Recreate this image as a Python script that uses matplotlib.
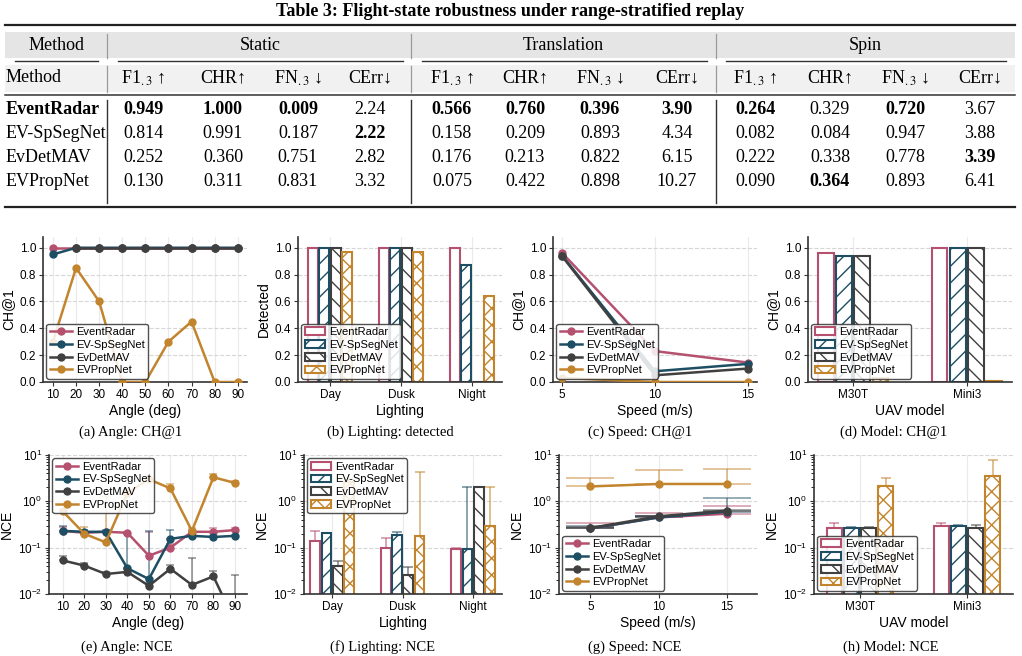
import numpy as np
import matplotlib
matplotlib.use("Agg")
import matplotlib.pyplot as plt
from matplotlib.patches import Rectangle

SERIF = ["Liberation Serif", "DejaVu Serif"]
SANS = ["Liberation Sans", "DejaVu Sans"]
plt.rcParams["font.family"] = SANS
plt.rcParams["hatch.linewidth"] = 1.0

methods = ["EventRadar", "EV-SpSegNet", "EvDetMAV", "EVPropNet"]
colors = ["#b5506e", "#1d4e63", "#404040", "#c2842d"]
hatches = ["", "//", "\\\\", "xx"]

# ---- table data ----
groups = ["Static", "Translation", "Spin"]
metric_names = ["F1$_{.3}$ \u2191", "CHR\u2191", "FN$_{.3}$ \u2193", "CErr\u2193"]
table_vals = [
    ["0.949", "1.000", "0.009", "2.24", "0.566", "0.760", "0.396", "3.90", "0.264", "0.329", "0.720", "3.67"],
    ["0.814", "0.991", "0.187", "2.22", "0.158", "0.209", "0.893", "4.34", "0.082", "0.084", "0.947", "3.88"],
    ["0.252", "0.360", "0.751", "2.82", "0.176", "0.213", "0.822", "6.15", "0.222", "0.338", "0.778", "3.39"],
    ["0.130", "0.311", "0.831", "3.32", "0.075", "0.422", "0.898", "10.27", "0.090", "0.364", "0.893", "6.41"],
]
table_bold = [
    [1, 1, 1, 0, 1, 1, 1, 1, 1, 0, 1, 0],
    [0, 0, 0, 1, 0, 0, 0, 0, 0, 0, 0, 0],
    [0, 0, 0, 0, 0, 0, 0, 0, 0, 0, 0, 1],
    [0, 0, 0, 0, 0, 0, 0, 0, 0, 1, 0, 0],
]

# ---- (a) angle CH@1 ----
angles = [10, 20, 30, 40, 50, 60, 70, 80, 90]
angle_chr = [
    [1.0, 1.0, 1.0, 1.0, 1.0, 1.0, 1.0, 1.0, 1.0],
    [0.95, 1.0, 1.0, 1.0, 1.0, 1.0, 1.0, 1.0, 1.0],
    [np.nan, 1.0, 1.0, 1.0, 1.0, 1.0, 1.0, 1.0, 1.0],
    [0.30, 0.85, 0.60, 0.0, 0.0, 0.30, 0.45, 0.0, 0.0],
]

# ---- (b) lighting detected ----
lighting = ["Day", "Dusk", "Night"]
light_det = [
    [1.0, 1.0, 1.0],
    [1.0, 1.0, 0.87],
    [1.0, 1.0, 0.0],
    [0.97, 0.97, 0.64],
]

# ---- (c) speed CH@1 ----
speeds = [5, 10, 15]
speed_chr = [
    [0.96, 0.23, 0.145],
    [0.94, 0.08, 0.135],
    [0.935, 0.05, 0.10],
    [0.03, 0.0, 0.0],
]

# ---- (d) model CH@1 ----
models = ["M30T", "Mini3"]
model_chr = [
    [0.96, 1.0],
    [0.94, 1.0],
    [0.94, 1.0],
    [0.03, 0.005],
]

# ---- (e) angle NCE ----
angle_nce = [
    [0.23, 0.21, 0.22, 0.21, 0.067, 0.10, 0.22, 0.22, 0.24],
    [0.23, 0.22, 0.22, 0.036, 0.021, 0.155, 0.18, 0.17, 0.18],
    [0.053, 0.041, 0.027, 0.030, 0.015, 0.035, 0.0157, 0.024, 0.0025],
    [0.61, 0.20, 0.13, 1.5, 3.0, 1.9, 0.23, 3.3, 2.5],
]
angle_nce_err = [
    [0.05, 0.02, 0.01, 0.01, 0.15, 0.02, 0.02, 0.05, 0.02],
    [0.07, 0.02, 0.02, 0.16, 0.21, 0.085, 0.01, 0.01, 0.01],
    [0.012, 0.005, 0.003, 0.004, 0.002, 0.008, 0.044, 0.007, 0.0235],
    [0.05, 0.08, 1.2, 0.3, 0.2, 0.5, 0.03, 0.5, 0.2],
]

# ---- (f) lighting NCE ----
light_nce = [
    [0.137, 0.099, 0.094],
    [0.207, 0.185, 0.094],
    [0.040, 0.026, 2.0],
    [2.6, 0.18, 0.30],
]
light_nce_err = [
    [0.088, 0.061, 0.006],
    [0.003, 0.033, 1.9],
    [0.011, 0.012, 0.0],
    [0.4, 4.1, 1.7],
]

# ---- (g) speed NCE ----
speed_nce = [
    [0.26, 0.45, 0.54],
    [0.26, 0.45, 0.60],
    [0.266, 0.475, 0.63],
    [2.1, 2.37, 2.37],
]
speed_nce_err = [
    [0.08, 0.11, 0.24],
    [0.03, 0.04, 0.58],
    [0.014, 0.005, 0.02],
    [1.1, 2.33, 2.53],
]

# ---- (h) model NCE ----
model_nce = [
    [0.266, 0.29],
    [0.266, 0.30],
    [0.266, 0.266],
    [2.1, 3.45],
]
model_nce_err = [
    [0.074, 0.05],
    [0.014, 0.005],
    [0.009, 0.044],
    [1.1, 4.45],
]


def style(ax):
    for s in ["top", "right"]:
        ax.spines[s].set_visible(False)
    for s in ["left", "bottom"]:
        ax.spines[s].set_color("#333333")
        ax.spines[s].set_linewidth(1.2)
    ax.grid(axis="y", ls="--", color="#d6d6d6", lw=0.8)
    ax.grid(axis="x", ls="-", color="#eaeaea", lw=0.8)
    ax.set_axisbelow(True)
    ax.tick_params(labelsize=8.5, length=3, color="#333333", pad=2)


def add_legend(ax, loc, bars=False):
    leg = ax.legend(loc=loc, fontsize=8, frameon=True, framealpha=0.85,
                    edgecolor="#333333", borderpad=0.3, labelspacing=0.25,
                    handlelength=2.0 if not bars else 1.8, handletextpad=0.4,
                    borderaxespad=0.3)
    leg.get_frame().set_linewidth(1.0)


def labels(ax, xlabel, ylabel):
    ax.set_xlabel(xlabel, fontsize=10, labelpad=2)
    ax.set_ylabel(ylabel, fontsize=10, labelpad=3)


def line_panel(ax, x, series, errs=None, capsize=3):
    for i, m in enumerate(methods):
        y = np.array(series[i], dtype=float)
        if errs is not None:
            ax.errorbar(x, y, yerr=[np.zeros_like(y), errs[i]], fmt="none",
                        ecolor=colors[i], alpha=0.55, capsize=capsize,
                        elinewidth=1.2, capthick=1.2, zorder=2)
        ax.plot(x, y, marker="o", color=colors[i], lw=1.8, ms=5, label=m, zorder=3)


def bar_panel(ax, cats, series, errs=None):
    x = np.arange(len(cats))
    step, width = 0.16, 0.14
    for i, m in enumerate(methods):
        pos = x + (i - 1.5) * step
        ax.bar(pos, series[i], width, facecolor="white", edgecolor=colors[i],
               hatch=hatches[i], lw=1.5, label=m, zorder=2)
        if errs is not None:
            ax.errorbar(pos, series[i], yerr=[np.zeros(len(cats)), errs[i]], fmt="none",
                        ecolor=colors[i], alpha=0.6, capsize=3.5, elinewidth=1.2,
                        capthick=1.2, zorder=3)
    ax.set_xticks(x)
    ax.set_xticklabels(cats)


def draw_table(ax):
    ax.text(510, 12, "Table 3: Flight-state robustness under range-stratified replay",
            ha="center", va="center", fontsize=13, fontweight="bold", family=SERIF)
    ax.plot([5, 1015], [25, 25], color="#222222", lw=1.6)
    ax.add_patch(Rectangle((5, 32), 1010, 26, facecolor="#e5e5e5", lw=0))
    ax.add_patch(Rectangle((5, 65), 1010, 27, facecolor="#f1f1f1", lw=0))
    for x0, x1 in [(15, 98), (118, 403), (422, 707), (726, 1006)]:
        ax.plot([x0, x1], [61, 61], color="#333333", lw=1.0)
    for xv in [107, 411, 716]:
        ax.plot([xv, xv], [34, 58], color="#9a9a9a", lw=0.9)
        ax.plot([xv, xv], [66, 92], color="#9a9a9a", lw=0.9)
        ax.plot([xv, xv], [100, 203], color="#333333", lw=1.0)
    ax.plot([5, 1015], [95, 95], color="#333333", lw=1.1)
    ax.plot([5, 1015], [207, 207], color="#222222", lw=1.6)

    col_x = [143, 223, 298, 370, 452, 525, 600, 677, 755, 830, 905, 980]
    group_x = [260, 563, 865]
    row_y = [110, 133, 157, 181]
    fs = 13
    ax.text(57, 45, "Method", ha="center", va="center", fontsize=fs, family=SERIF)
    for g, gx in zip(groups, group_x):
        ax.text(gx, 45, g, ha="center", va="center", fontsize=fs, family=SERIF)
    ax.text(6, 78, "Method", ha="left", va="center", fontsize=fs, family=SERIF)
    for j, cx in enumerate(col_x):
        ax.text(cx, 78, metric_names[j % 4], ha="center", va="center", fontsize=fs,
                family=SERIF, math_fontfamily="stix")
    for r, ry in enumerate(row_y):
        ax.text(6, ry, methods[r], ha="left", va="center", fontsize=fs, family=SERIF,
                fontweight="bold" if r == 0 else "normal")
        for j, cx in enumerate(col_x):
            ax.text(cx, ry, table_vals[r][j], ha="center", va="center", fontsize=fs,
                    family=SERIF, fontweight="bold" if table_bold[r][j] else "normal")


fig = plt.figure(figsize=(10.22, 6.56), dpi=100)
W, H = 1022.0, 656.0

bg = fig.add_axes([0, 0, 1, 1], zorder=-1)
bg.set_xlim(0, W)
bg.set_ylim(H, 0)
bg.axis("off")
draw_table(bg)


def px_axes(left, top, right, bottom):
    return fig.add_axes([left / W, 1 - bottom / H, (right - left) / W, (bottom - top) / H])


row1 = [px_axes(l, 237, l + 204, 382) for l in [43, 298, 553, 808]]
row2 = [px_axes(l, 455, r, 594) for l, r in [(49, 247), (304, 502), (559, 757), (814, 1013)]]

# (a)
ax = row1[0]
line_panel(ax, angles, angle_chr)
ax.set_xticks(angles)
ax.set_xlim(5.7, 94)
ax.set_ylim(0, 1.08)
labels(ax, "Angle (deg)", "CH@1")
style(ax)
add_legend(ax, "lower left")

# (b)
ax = row1[1]
bar_panel(ax, lighting, light_det)
ax.set_xlim(-0.45, 2.42)
ax.set_ylim(0, 1.08)
labels(ax, "Lighting", "Detected")
style(ax)
add_legend(ax, "lower left", bars=True)

# (c)
ax = row1[2]
line_panel(ax, speeds, speed_chr)
ax.set_xticks(speeds)
ax.set_xlim(4.5, 15.5)
ax.set_ylim(0, 1.08)
labels(ax, "Speed (m/s)", "CH@1")
style(ax)
add_legend(ax, "lower left")

# (d)
ax = row1[3]
bar_panel(ax, models, model_chr)
ax.set_xlim(-0.4, 1.4)
ax.set_ylim(0, 1.08)
labels(ax, "UAV model", "CH@1")
style(ax)
add_legend(ax, "lower left", bars=True)

# (e)
ax = row2[0]
ax.set_yscale("log")
line_panel(ax, angles, angle_nce, angle_nce_err, capsize=3)
ax.set_xticks(angles)
ax.set_xlim(3.6, 95.6)
ax.set_ylim(0.01, 10)
labels(ax, "Angle (deg)", "NCE")
style(ax)
add_legend(ax, "upper left")

# (f)
ax = row2[1]
ax.set_yscale("log")
bar_panel(ax, lighting, light_nce, light_nce_err)
ax.set_xlim(-0.4, 2.41)
ax.set_ylim(0.01, 10)
labels(ax, "Lighting", "NCE")
style(ax)
add_legend(ax, "upper left", bars=True)

# (g)
ax = row2[2]
ax.set_yscale("log")
line_panel(ax, speeds, speed_nce, speed_nce_err, capsize=17)
ax.set_xticks(speeds)
ax.set_xlim(2.7, 17.2)
ax.set_ylim(0.01, 10)
labels(ax, "Speed (m/s)", "NCE")
style(ax)
add_legend(ax, "lower left")

# (h)
ax = row2[3]
ax.set_yscale("log")
bar_panel(ax, models, model_nce, model_nce_err)
ax.set_xlim(-0.43, 1.43)
ax.set_ylim(0.01, 10)
labels(ax, "UAV model", "NCE")
style(ax)
add_legend(ax, "lower left", bars=True)

captions = ["(a) Angle: CH@1", "(b) Lighting: detected", "(c) Speed: CH@1", "(d) Model: CH@1",
            "(e) Angle: NCE", "(f) Lighting: NCE", "(g) Speed: NCE", "(h) Model: NCE"]
cap_pos = [(131, 432), (390, 432), (640, 432), (894, 432),
           (127, 647), (383, 647), (635, 647), (891, 647)]
for txt, (cx, cy) in zip(captions, cap_pos):
    bg.text(cx, cy, txt, ha="center", va="center", fontsize=10.5, family=SERIF)

fig.savefig("out.png", dpi=100)
